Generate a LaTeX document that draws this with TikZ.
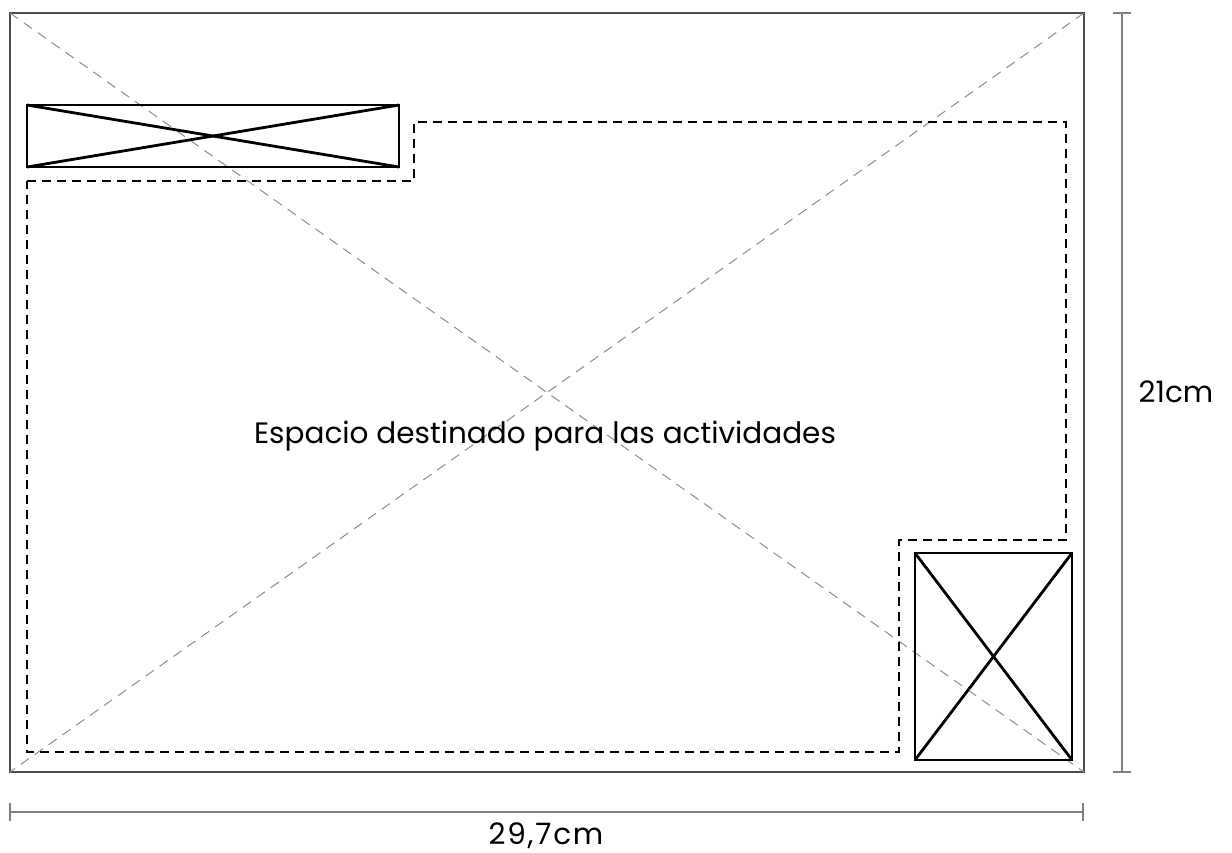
\documentclass[tikz,border=0pt]{standalone}
\usepackage{fontspec}
\setmainfont{Poppins}
\begin{document}
\begin{tikzpicture}[x=1pt, y=-1pt,
        framebox/.style={draw=black!70, line width=2pt},
        crossbox/.style={draw=black, line width=2.8pt},
        arealine/.style={draw=black, line width=2.8pt, dash pattern=on 9pt off 6pt},
        diagline/.style={draw=gray!90, line width=1pt, dash pattern=on 10pt off 7pt},
        measline/.style={draw=gray, line width=1.8pt},
        label/.style={font=\fontsize{29.5}{34}\selectfont, inner sep=0pt},
        ]
            \useasboundingbox (0,0) rectangle (1232,852);

            % hoja
            \coordinate (tl) at (10,13);
            \coordinate (tr) at (1084,13);
            \coordinate (bl) at (10,772);
            \coordinate (br) at (1084,772);
            \draw[framebox] (tl) rectangle (br);
            \draw[diagline] (tl) -- (br);
            \draw[diagline] (tr) -- (bl);

            % recuadros
            \coordinate (logoa) at (27,105);
            \coordinate (logob) at (399,167);
            \draw[crossbox] (logoa) rectangle (logob);
            \draw[crossbox] (logoa) -- (logob);
            \draw[crossbox] (logoa |- logob) -- (logob |- logoa);

            \coordinate (fotoa) at (915,553);
            \coordinate (fotob) at (1072,760);
            \draw[crossbox] (fotoa) rectangle (fotob);
            \draw[crossbox] (fotoa) -- (fotob);
            \draw[crossbox] (fotoa |- fotob) -- (fotob |- fotoa);

            % zona de actividades
            \draw[arealine] (27,181) -- (414,181) -- (414,122) -- (1066,122) -- (1066,540)
                -- (899,540) -- (899,752) -- (27,752) -- cycle;
            \node[label] at (545,436) (texto) {Espacio destinado para las actividades};

            % medidas
            \coordinate (ha) at (10,812);
            \coordinate (hb) at (1083,812);
            \draw[measline] (ha) -- (hb);
            \draw[measline] ([yshift=-9pt]ha) -- ([yshift=9pt]ha);
            \draw[measline] ([yshift=-9pt]hb) -- ([yshift=9pt]hb);
            \node[label, anchor=base, text height=22pt, text depth=0pt] at (546,844) (ancho) {\addfontfeature{LetterSpace=6}29,7cm};

            \coordinate (va) at (1122,13);
            \coordinate (vb) at (1122,772);
            \draw[measline] (va) -- (vb);
            \draw[measline] ([xshift=-9pt]va) -- ([xshift=9pt]va);
            \draw[measline] ([xshift=-9pt]vb) -- ([xshift=9pt]vb);
            \node[label] at (1176,392) (alto) {21cm};

            \end{tikzpicture}
\end{document}
